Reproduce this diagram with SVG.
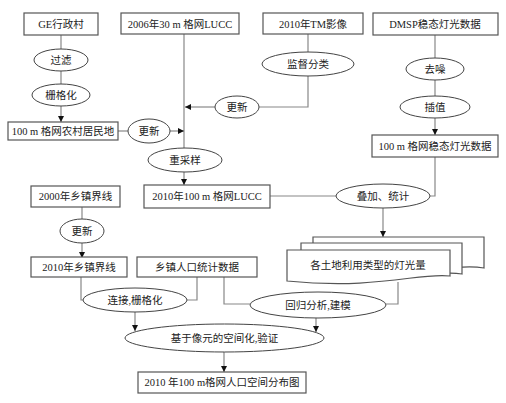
<svg xmlns="http://www.w3.org/2000/svg" width="506" height="403" viewBox="0 0 506 403">
<defs>
<style>
.box{fill:#fff;stroke:#555;stroke-width:1.2}
.ell{fill:#fff;stroke:#444;stroke-width:1}
.ln{fill:none;stroke:#888;stroke-width:1.2}
text{font-family:"Liberation Serif","Noto Sans CJK SC",serif;font-size:10.5px;fill:#222;text-anchor:middle;dominant-baseline:central}
</style>
<marker id="ar" viewBox="0 0 6 6" refX="6" refY="3" markerWidth="6" markerHeight="6" orient="auto" markerUnits="userSpaceOnUse">
<path d="M0,0 L6,3 L0,6 Z" fill="#111"/>
</marker>
</defs>
<rect width="506" height="403" fill="#fff"/>
<g id="connectors">
<path class="ln" d="M61,35 V49"/>
<path class="ln" d="M61,71 V84"/>
<path class="ln" d="M61,106 V122" marker-end="url(#ar)"/>
<path class="ln" d="M184,34 V148"/>
<path class="ln" d="M118,131 H128"/>
<path class="ln" d="M170,131 H184" marker-end="url(#ar)"/>
<path class="ln" d="M308,34 V52"/>
<path class="ln" d="M308,76 V107 H259"/>
<path class="ln" d="M215,107 H185" marker-end="url(#ar)"/>
<path class="ln" d="M435,35 V58"/>
<path class="ln" d="M435,80 V96"/>
<path class="ln" d="M435,118 V135" marker-end="url(#ar)"/>
<path class="ln" d="M184,172 V185" marker-end="url(#ar)"/>
<path class="ln" d="M270,196 H336"/>
<path class="ln" d="M435,157 V196 H430"/>
<path class="ln" d="M383,208 V237" marker-end="url(#ar)"/>
<path class="ln" d="M82,207 V219"/>
<path class="ln" d="M82,243 V258" marker-end="url(#ar)"/>
<path class="ln" d="M81,277 V300 H83"/>
<path class="ln" d="M197,277 V300 H187"/>
<path class="ln" d="M224,277 V304 H250"/>
<path class="ln" d="M398,282 V304 H386"/>
<path class="ln" d="M135,312 V331" marker-end="url(#ar)"/>
<path class="ln" d="M316,318 V332" marker-end="url(#ar)"/>
<path class="ln" d="M224,352 V372" marker-end="url(#ar)"/>
</g>
<g id="n-ge"><rect class="box" x="24" y="13" width="74" height="22"/><text x="61" y="24">GE行政村</text></g>
<g id="n-lucc2006"><rect class="box" x="121" y="13" width="118" height="21"/><text x="180" y="24">2006年30 m 格网LUCC</text></g>
<g id="n-tm"><rect class="box" x="263" y="13" width="100" height="21"/><text x="313" y="24">2010年TM影像</text></g>
<g id="n-dmsp"><rect class="box" x="373" y="13" width="125" height="22"/><text x="435" y="24">DMSP稳态灯光数据</text></g>
<g id="n-guolv"><ellipse class="ell" cx="61" cy="60" rx="27" ry="11"/><text x="61" y="60">过滤</text></g>
<g id="n-shange1"><ellipse class="ell" cx="61" cy="95" rx="29" ry="11"/><text x="61" y="95">栅格化</text></g>
<g id="n-jiandu"><ellipse class="ell" cx="308" cy="64" rx="46" ry="12"/><text x="308" y="64">监督分类</text></g>
<g id="n-quzao"><ellipse class="ell" cx="435" cy="69" rx="29" ry="11"/><text x="435" y="69">去噪</text></g>
<g id="n-chazhi"><ellipse class="ell" cx="435" cy="107" rx="35" ry="11"/><text x="435" y="107">插值</text></g>
<g id="n-gengxin2"><ellipse class="ell" cx="237" cy="107" rx="22" ry="11"/><text x="237" y="107">更新</text></g>
<g id="n-nongcun"><rect class="box" x="8" y="122" width="110" height="18"/><text x="63" y="131">100 m 格网农村居民地</text></g>
<g id="n-gengxin1"><ellipse class="ell" cx="149" cy="131" rx="21" ry="12"/><text x="149" y="131">更新</text></g>
<g id="n-dengguang100"><rect class="box" x="372" y="135" width="126" height="22"/><text x="435" y="146">100 m 格网稳态灯光数据</text></g>
<g id="n-chongcaiyang"><ellipse class="ell" cx="185" cy="160" rx="37" ry="12"/><text x="185" y="160">重采样</text></g>
<g id="n-lucc2010"><rect class="box" x="144" y="185" width="126" height="23"/><text x="207" y="196.5">2010年100 m 格网LUCC</text></g>
<g id="n-diejia"><ellipse class="ell" cx="383" cy="196" rx="47" ry="12"/><text x="383" y="196">叠加、统计</text></g>
<g id="n-xz2000"><rect class="box" x="31" y="186" width="89" height="21"/><text x="75.5" y="196.5">2000年乡镇界线</text></g>
<g id="n-gengxin3"><ellipse class="ell" cx="82" cy="231" rx="22" ry="12"/><text x="82" y="231">更新</text></g>
<g id="n-docs">
<path class="box" d="M313,237 H484 V268 C450,262 410,282 313,270 Z"/>
<path class="box" d="M301,243 H462 V274 C430,269 395,288 301,276 Z"/>
<path class="box" d="M287,250 H450 V276 C420,272 380,290 287,281 Z"/>
<text x="368" y="265">各土地利用类型的灯光量</text>
</g>
<g id="n-xz2010"><rect class="box" x="31" y="257" width="96" height="20"/><text x="79" y="267">2010年乡镇界线</text></g>
<g id="n-renkou"><rect class="box" x="137" y="257" width="120" height="20"/><text x="197" y="267">乡镇人口统计数据</text></g>
<g id="n-lianjie"><ellipse class="ell" cx="135" cy="300" rx="52" ry="12"/><text x="135" y="300">连接,栅格化</text></g>
<g id="n-huigui"><ellipse class="ell" cx="318" cy="305" rx="68" ry="13"/><text x="318" y="305">回归分析,建模</text></g>
<g id="n-jiyu"><ellipse class="ell" cx="224.5" cy="338" rx="99.5" ry="14"/><text x="224.5" y="338">基于像元的空间化,验证</text></g>
<g id="n-final"><rect class="box" x="138" y="372" width="168" height="21"/><text x="222" y="382.5">2010 年100 m格网人口空间分布图</text></g>
</svg>
